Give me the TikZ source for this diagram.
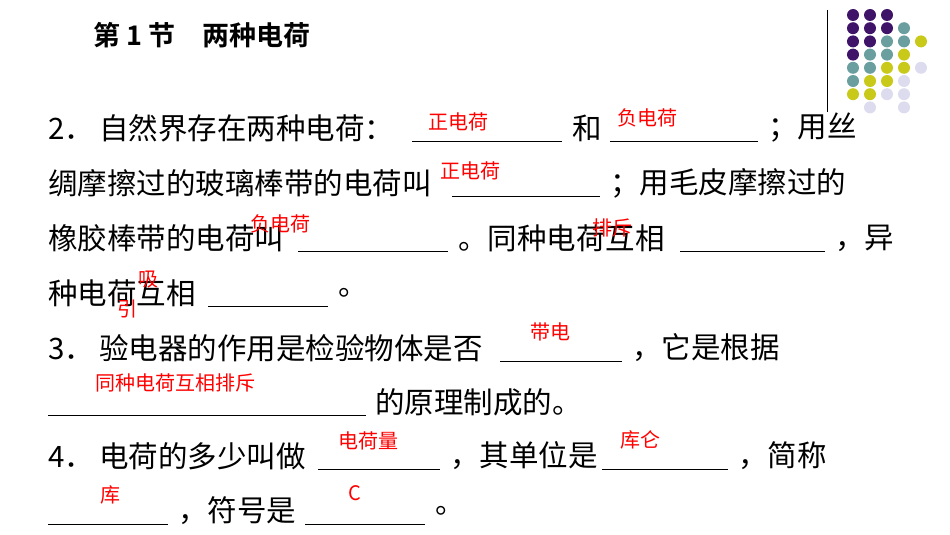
\documentclass[tikz,border=0pt]{standalone}
\usepackage{fontspec}
\setmainfont{Noto Sans CJK SC}
\newfontfamily\titlefont{Noto Sans CJK SC Bold}
\definecolor{dotP}{HTML}{3F1468}
\definecolor{dotT}{HTML}{6B9E9E}
\definecolor{dotY}{HTML}{C9C919}
\definecolor{dotL}{HTML}{DCDCEE}
\tikzset{
    txt/.style={anchor=west, inner sep=0pt, font=\fontsize{29.5}{29.5}\selectfont},
    ans/.style={text=red, inner sep=0pt, font=\fontsize{20}{20}\selectfont},
    blank/.style={line width=0.8pt},
}
\begin{document}
\begin{tikzpicture}[x=1pt, y=-1pt]
        \useasboundingbox (0, 0) rectangle (950, 535);
        \node[anchor=west, inner sep=0pt, font=\titlefont\fontsize{27}{27}\selectfont] (title) at (93, 35) {第 1 节\quad 两种电荷};
        % dots
        \draw[line width=0.8pt] (827, 10) -- (827, 112);
        \foreach \row/\cols in {0/{0/P,1/P,2/P}, 1/{0/P,1/P,2/P,3/T}, 2/{0/P,1/P,2/T,3/T,4/Y},
                3/{0/P,1/T,2/T,3/Y}, 4/{0/T,1/T,2/Y,3/Y,4/L}, 5/{0/T,1/Y,2/Y,3/L},
                6/{0/Y,1/Y,2/L,3/L}, 7/{1/L,3/L}}
            \foreach \c/\col in \cols
                \fill[dot\col] (853 + 17*\c, 15 + 13.2*\row) circle (6);
        % line 1
        \node[txt] (l1a) at (48, 128) {2．\hspace{5pt}自然界存在两种电荷：};
        \draw[blank] (412, 141) -- (562, 141);
        \node[txt] (l1b) at (572, 128) {和};
        \draw[blank] (610, 141) -- (758, 141);
        \node[txt] (l1c) at (768, 128) {；用丝};
        \node[ans] (a1) at (458, 122) {正电荷};
        \node[ans] (a2) at (647, 118) {负电荷};
        % line 2
        \node[txt] (l2a) at (48, 183) {绸摩擦过的玻璃棒带的电荷叫};
        \draw[blank] (452, 196) -- (600, 196);
        \node[txt] (l2b) at (610, 183) {；用毛皮摩擦过的};
        \node[ans] (a3) at (470, 171) {正电荷};
        % line 3
        \node[txt] (l3a) at (48, 238) {橡胶棒带的电荷叫};
        \draw[blank] (298, 251) -- (448, 251);
        \node[txt] (l3b) at (458, 238) {。同种电荷互相};
        \draw[blank] (680, 251) -- (825, 251);
        \node[txt] (l3c) at (835, 238) {，异};
        \node[ans] (a4) at (280, 224) {负电荷};
        \node[ans] (a5) at (612, 228) {排斥};
        % line 4
        \node[txt] (l4a) at (48, 293) {种电荷互相};
        \draw[blank] (208, 306) -- (328, 306);
        \node[txt] (l4b) at (338, 293) {。};
        \node[ans] (a6) at (148, 280) {吸};
        \node[ans] (a7) at (127, 309) {引};
        % line 5
        \node[txt] (l5a) at (48, 348) {3．\hspace{5pt}验电器的作用是检验物体是否};
        \draw[blank] (500, 361) -- (622, 361);
        \node[txt] (l5b) at (632, 348) {，它是根据};
        \node[ans] (a8) at (550, 332) {带电};
        % line 6
        \draw[blank] (48, 415) -- (366, 415);
        \node[txt] (l6a) at (375, 402) {的原理制成的。};
        \node[ans] (a9) at (175, 383) {同种电荷互相排斥};
        % line 7
        \node[txt] (l7a) at (48, 456) {4．\hspace{5pt}电荷的多少叫做};
        \draw[blank] (318, 469) -- (440, 469);
        \node[txt] (l7b) at (450, 456) {，其单位是};
        \draw[blank] (602, 469) -- (728, 469);
        \node[txt] (l7c) at (738, 456) {，简称};
        \node[ans] (a10) at (368, 441) {电荷量};
        \node[ans] (a11) at (640, 440) {库仑};
        % line 8
        \draw[blank] (48, 524) -- (168, 524);
        \node[txt] (l8a) at (178, 511) {，符号是};
        \draw[blank] (305, 524) -- (425, 524);
        \node[txt] (l8b) at (435, 511) {。};
        \node[ans] (a12) at (110, 495) {库};
        \node[ans] (a13) at (355, 493) {C};
\end{tikzpicture}
\end{document}
